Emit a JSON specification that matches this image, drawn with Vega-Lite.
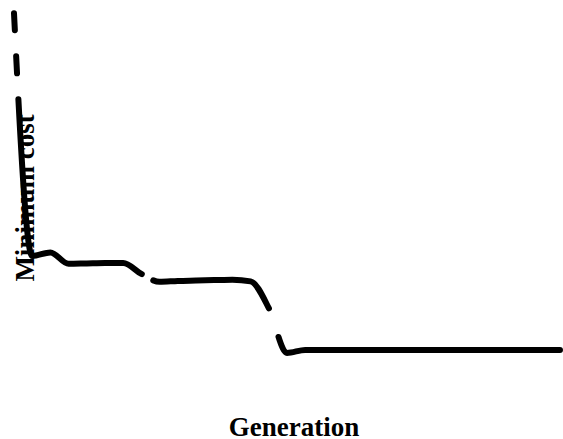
{
  "$schema": "https://vega.github.io/schema/vega-lite/v6.json",
  "width": 563,
  "height": 439,
  "padding": 0,
  "autosize": {"type": "none"},
  "background": "white",
  "config": {"view": {"stroke": null}},
  "data": {
    "values": [
      {"generation": 0, "cost": 1170},
      {"generation": 1, "cost": 617},
      {"generation": 2, "cost": 625},
      {"generation": 3, "cost": 599},
      {"generation": 4, "cost": 600},
      {"generation": 5, "cost": 601},
      {"generation": 6, "cost": 601},
      {"generation": 7, "cost": 576},
      {"generation": 8, "cost": 558},
      {"generation": 9, "cost": 560},
      {"generation": 10, "cost": 561},
      {"generation": 11, "cost": 562},
      {"generation": 12, "cost": 563},
      {"generation": 13, "cost": 559},
      {"generation": 14, "cost": 498},
      {"generation": 15, "cost": 396},
      {"generation": 16, "cost": 403},
      {"generation": 17, "cost": 403},
      {"generation": 18, "cost": 403},
      {"generation": 19, "cost": 403},
      {"generation": 20, "cost": 403},
      {"generation": 21, "cost": 403},
      {"generation": 22, "cost": 403},
      {"generation": 23, "cost": 403},
      {"generation": 24, "cost": 403},
      {"generation": 25, "cost": 403},
      {"generation": 26, "cost": 403},
      {"generation": 27, "cost": 403},
      {"generation": 28, "cost": 403},
      {"generation": 29, "cost": 403},
      {"generation": 30, "cost": 403}
    ]
  },
  "mark": {
    "type": "line",
    "interpolate": "monotone",
    "color": "black",
    "strokeWidth": 6,
    "strokeCap": "round",
    "strokeDash": [17, 26, 17, 26, 275, 13, 131, 30, 5000]
  },
  "encoding": {
    "x": {
      "field": "generation",
      "type": "quantitative",
      "scale": {"domain": [-0.769, 30.165], "nice": false, "zero": false},
      "axis": {
        "title": "Generation",
        "domain": false,
        "ticks": false,
        "labels": false,
        "grid": false,
        "titleFont": "Liberation Serif",
        "titleFontSize": 27,
        "titleFontWeight": "bold",
        "titleColor": "black",
        "titleX": 293.5,
        "titleY": -4,
        "titleAlign": "center",
        "titleBaseline": "alphabetic",
        "titleAngle": 0
      }
    },
    "y": {
      "field": "cost",
      "type": "quantitative",
      "scale": {"domain": [200, 1200], "nice": false, "zero": false},
      "axis": {
        "title": "Minimum cost",
        "domain": false,
        "ticks": false,
        "labels": false,
        "grid": false,
        "titleFont": "Liberation Serif",
        "titleFontSize": 27,
        "titleFontWeight": "bold",
        "titleColor": "black",
        "titleX": 33,
        "titleY": 197.5,
        "titleAlign": "center",
        "titleBaseline": "alphabetic",
        "titleAngle": 270
      }
    }
  }
}
